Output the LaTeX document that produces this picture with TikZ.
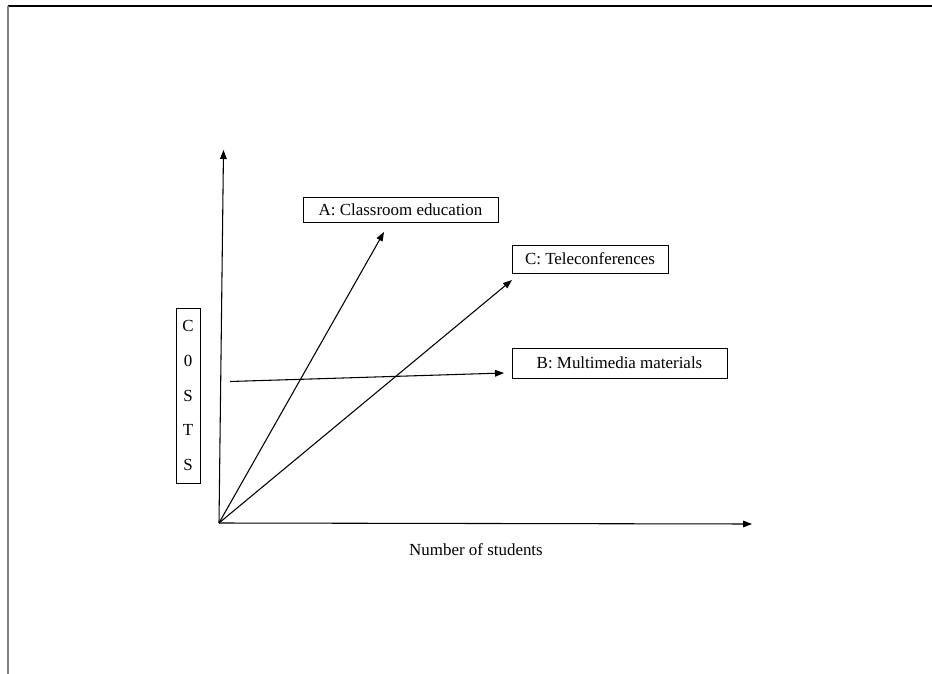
\documentclass[tikz,border=0pt]{standalone}
\usepackage{fontspec}
\setmainfont{Liberation Serif}
\usepackage{tikz}
\usetikzlibrary{arrows.meta}
\tikzstyle{costbox}=[draw,inner sep=0pt,font=\fontsize{12.7}{15}\selectfont]
\tikzstyle{every node}=[font=\fontsize{12.7}{15}\selectfont]
\tikzstyle{arr}=[-{Triangle[length=6.75pt,width=5pt]},line width=0.8pt]

\begin{document}
\begin{tikzpicture}[x=0.75pt,y=-0.75pt]
        \useasboundingbox (0,0) rectangle (932,674);
        % page frame
        \draw[line width=0.9pt] (8,6) -- (932,6);
        \draw[line width=0.9pt,gray] (8,6) -- (8,674);
        % axes
        \coordinate (O) at (219,523);
        \coordinate (ytop) at (223.5,150);
        \coordinate (xend) at (752,524);
        \draw[arr] (O) -- (ytop);
        \draw[arr] (O) -- (xend);
        \node (xlabel) at (476,550) {Number of students};
        \node[costbox,minimum width=18pt,minimum height=131pt,align=center,font=\fontsize{12.7}{26.2}\selectfont] (costs) at (188,395.5) {C\\0\\S\\T\\S};
        % boxes
        \node[costbox,minimum width=146pt,minimum height=19pt] (boxA) at (400.5,210) {A: Classroom education};
        \node[costbox,minimum width=117pt,minimum height=21pt] (boxC) at (590,259) {C: Teleconferences};
        \node[costbox,minimum width=161pt,minimum height=22.5pt] (boxB) at (619.5,363) {B: Multimedia materials};
        % lines
        \coordinate (endA) at (384,232);
        \coordinate (endC) at (512,280);
        \coordinate (startB) at (230,381.5);
        \coordinate (endB) at (504,373);
        \draw[arr] (O) -- (endA);
        \draw[arr] (O) -- (endC);
        \draw[arr] (startB) -- (endB);
\end{tikzpicture}
\end{document}
